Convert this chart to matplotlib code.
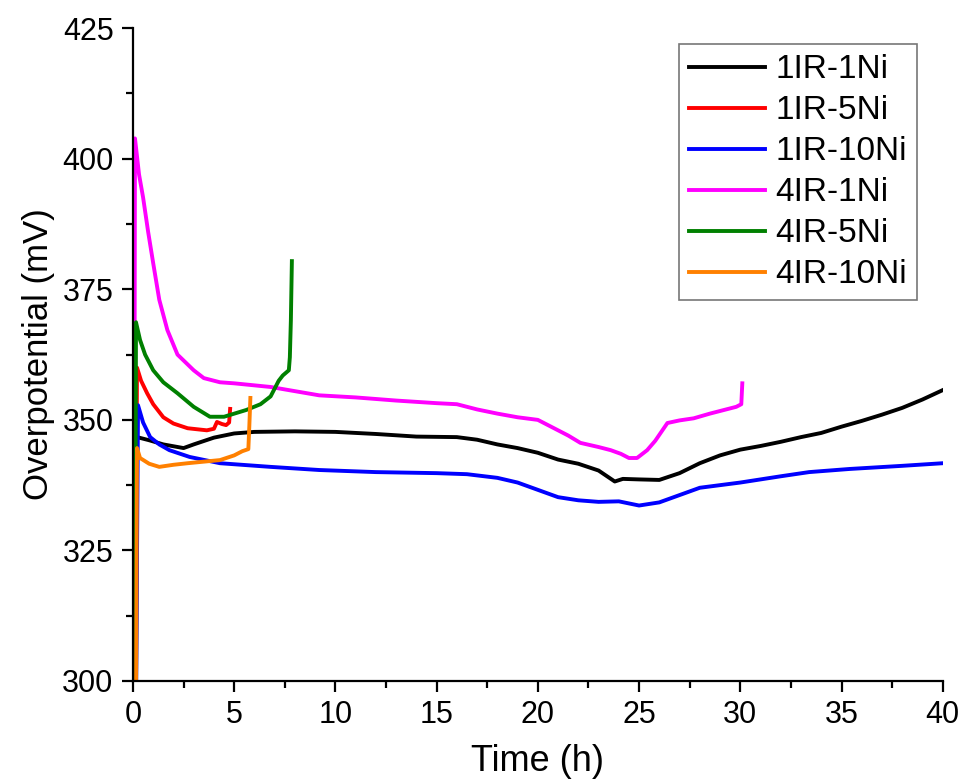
import matplotlib.pyplot as plt

plt.rcParams["font.family"] = ["Liberation Sans", "DejaVu Sans"]

# Overpotential vs time
t_1ir_1ni = [0.15, 0.2, 0.8, 1.5, 2.5, 3.0, 4.0, 5.0, 6.0, 8.0, 10, 12, 14, 16, 17, 18, 19, 20,
             21, 22, 23, 23.8, 24.2, 25, 26, 27, 28, 29, 30, 31, 32, 33, 34, 35, 36, 37, 38, 39, 40]
v_1ir_1ni = [295, 346.7, 346.1, 345.3, 344.6, 345.3, 346.6, 347.4, 347.7, 347.8, 347.7, 347.3,
             346.8, 346.7, 346.2, 345.3, 344.6, 343.7, 342.4, 341.6, 340.3, 338.2, 338.7, 338.6,
             338.5, 339.8, 341.7, 343.2, 344.3, 345.0, 345.8, 346.7, 347.5, 348.7, 349.8, 351.0,
             352.3, 353.9, 355.7]

t_1ir_5ni = [0.12, 0.2, 0.4, 0.7, 1.0, 1.5, 2.0, 2.7, 3.65, 4.0, 4.15, 4.4, 4.6, 4.75, 4.8]
v_1ir_5ni = [295, 360.0, 357.5, 355.1, 353.0, 350.5, 349.3, 348.4, 348.0, 348.3, 349.6, 349.2,
             349.0, 349.5, 352.1]

t_1ir_10ni = [0.15, 0.25, 0.5, 0.85, 1.3, 1.8, 2.8, 4.3, 6.8, 9.2, 12, 15, 16.5, 18, 19, 20, 21,
              22, 23, 24, 25, 26, 27, 28, 30, 32, 33.4, 35.4, 38, 40]
v_1ir_10ni = [295, 352.8, 349.5, 346.7, 345.3, 344.2, 342.9, 341.7, 341.0, 340.4, 340.0, 339.8,
              339.6, 338.9, 338.0, 336.6, 335.2, 334.6, 334.3, 334.4, 333.6, 334.2, 335.6, 337.0,
              338.0, 339.2, 340.0, 340.6, 341.2, 341.7]

t_4ir_1ni = [0.05, 0.1, 0.3, 0.5, 0.75, 1.0, 1.3, 1.7, 2.2, 3.0, 3.5, 4.3, 5, 6.8, 8, 9.2, 11, 13,
             15, 16, 17, 18, 19, 20, 21.1, 21.5, 22.1, 23, 23.6, 24.1, 24.5, 24.9, 25.4, 25.8,
             26.4, 27.0, 27.7, 28.5, 29.8, 30.05, 30.1]
v_4ir_1ni = [295, 403.9, 397.0, 392.6, 386.0, 380.0, 373.0, 367.2, 362.5, 359.5, 358.0, 357.2,
             357.0, 356.3, 355.5, 354.7, 354.3, 353.7, 353.2, 353.0, 352.0, 351.2, 350.5, 350.0,
             347.8, 347.0, 345.6, 344.8, 344.2, 343.5, 342.7, 342.7, 344.2, 346.0, 349.4, 349.9,
             350.3, 351.2, 352.5, 353.0, 357.0]

t_4ir_5ni = [0.1, 0.15, 0.35, 0.6, 1.0, 1.5, 2.2, 3.0, 3.8, 4.5, 5.6, 6.3, 6.8, 7.0, 7.2, 7.4,
             7.7, 7.75, 7.8, 7.85]
v_4ir_5ni = [295, 368.7, 365.3, 362.5, 359.5, 357.2, 355.1, 352.5, 350.6, 350.6, 351.9, 353.0,
             354.5, 356.0, 357.5, 358.5, 359.5, 362.0, 369.0, 380.4]

t_4ir_10ni = [0.15, 0.2, 0.35, 0.8, 1.3, 2.0, 2.7, 3.5, 4.3, 5.0, 5.4, 5.7, 5.75, 5.8]
v_4ir_10ni = [295, 344.6, 342.7, 341.6, 341.0, 341.4, 341.7, 342.0, 342.3, 343.2, 344.0, 344.4,
              349.0, 354.2]

series = [
    ("1IR-1Ni", t_1ir_1ni, v_1ir_1ni, "black"),
    ("1IR-5Ni", t_1ir_5ni, v_1ir_5ni, "#ff0000"),
    ("1IR-10Ni", t_1ir_10ni, v_1ir_10ni, "#0000ff"),
    ("4IR-1Ni", t_4ir_1ni, v_4ir_1ni, "#ff00ff"),
    ("4IR-5Ni", t_4ir_5ni, v_4ir_5ni, "#008000"),
    ("4IR-10Ni", t_4ir_10ni, v_4ir_10ni, "#ff8000"),
]

fig = plt.figure(figsize=(9.6, 7.84), dpi=100)
ax = fig.add_axes([0.1385, 0.1314, 0.8435, 0.8326])

for name, t, v, c in series:
    ax.plot(t, v, color=c, linewidth=2.8, label=name)

ax.set_xlim(0, 40)
ax.set_ylim(300, 425)
ax.set_xticks(range(0, 41, 5))
ax.set_xticks([x + 2.5 for x in range(0, 40, 5)], minor=True)
ax.set_yticks(range(300, 426, 25))
ax.set_yticks([y + 12.5 for y in range(300, 425, 25)], minor=True)

for side in ("top", "right"):
    ax.spines[side].set_visible(False)
for side in ("left", "bottom"):
    ax.spines[side].set_linewidth(1.6)

ax.tick_params(which="major", direction="out", length=8, width=1.6, labelsize=22, pad=6)
ax.tick_params(which="minor", direction="out", length=5, width=1.6)

ax.set_xlabel("Time (h)", fontsize=26, labelpad=10)
ax.set_ylabel("Overpotential (mV)", fontsize=25, labelpad=5)

leg = ax.legend(loc="upper right", bbox_to_anchor=(0.968, 0.9755), fontsize=24, frameon=True,
                fancybox=False, edgecolor="#555555", handlelength=2.3, labelspacing=0.3,
                borderpad=0.3, handletextpad=0.3, borderaxespad=0)
leg.get_frame().set_linewidth(1.2)

fig.savefig("out.png", dpi=100)
